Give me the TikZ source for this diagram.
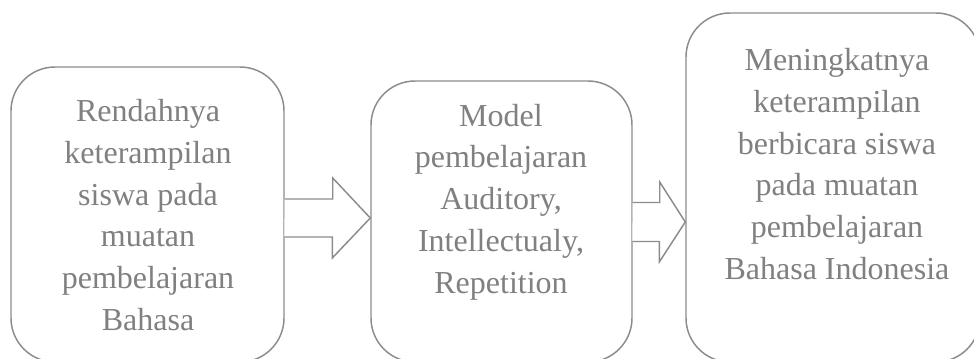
\documentclass[tikz,border=0pt]{standalone}
\usepackage{fontspec}
\setmainfont{Liberation Serif}
\usetikzlibrary{calc}
\definecolor{linegray}{HTML}{8C8C8C}
\definecolor{textgray}{HTML}{808080}
\tikzset{
  boxshape/.style={draw=linegray, line width=1.1pt, rounded corners=33pt, inner sep=0pt, fill=none},
  boxtext/.style={text=textgray, align=center, inner sep=0pt, font=\fontsize{24}{31.3}\selectfont},
  blockarrow/.style={draw=linegray, line width=1.1pt, fill=white, line join=miter}
}
\begin{document}
\begin{tikzpicture}[x=0.75pt,y=-0.75pt]
\useasboundingbox (0,0) rectangle (974,358);
\clip (0,0) rectangle (974,358);
\fill[white] (0,0) rectangle (974,358);
\node[boxshape, minimum width=204.75pt, minimum height=221.25pt] (b1) at (147.5,214.5) {};
\node[boxshape, minimum width=195.75pt, minimum height=210.75pt] (b2) at (501.5,221.5) {};
\node[boxshape, minimum width=220.5pt, minimum height=261.75pt] (b3) at (833,187.5) {};
\node[boxtext] (t1) at (148,215) {Rendahnya\\keterampilan\\siswa pada\\muatan\\pembelajaran\\Bahasa};
\node[boxtext] (t2) at (501,202) {Model\\pembelajaran\\Auditory,\\Intellectualy,\\Repetition};
\node[boxtext] (t3) at (837,164) {Meningkatnya\\keterampilan\\berbicara siswa\\pada muatan\\pembelajaran\\Bahasa Indonesia};
\coordinate (a1s) at ($(b1.east)+(0,3.5)$);
\coordinate (a1t) at (b2.west |- a1s);
\draw[blockarrow] (a1s) ++(0,-19) -- ++(48,0) -- ++(0,-21) -- (a1t) -- ++(-38,40) -- ++(0,-21) -- ++(-48,0);
\coordinate (a2s) at ($(b2.east)+(0,0.5)$);
\coordinate (a2t) at (b3.west |- a2s);
\draw[blockarrow] (a2s) ++(0,-19.5) -- ++(27,0) -- ++(0,-20.5) -- (a2t) -- ++(-26,40) -- ++(0,-20.5) -- ++(-27,0);
\end{tikzpicture}
\end{document}
